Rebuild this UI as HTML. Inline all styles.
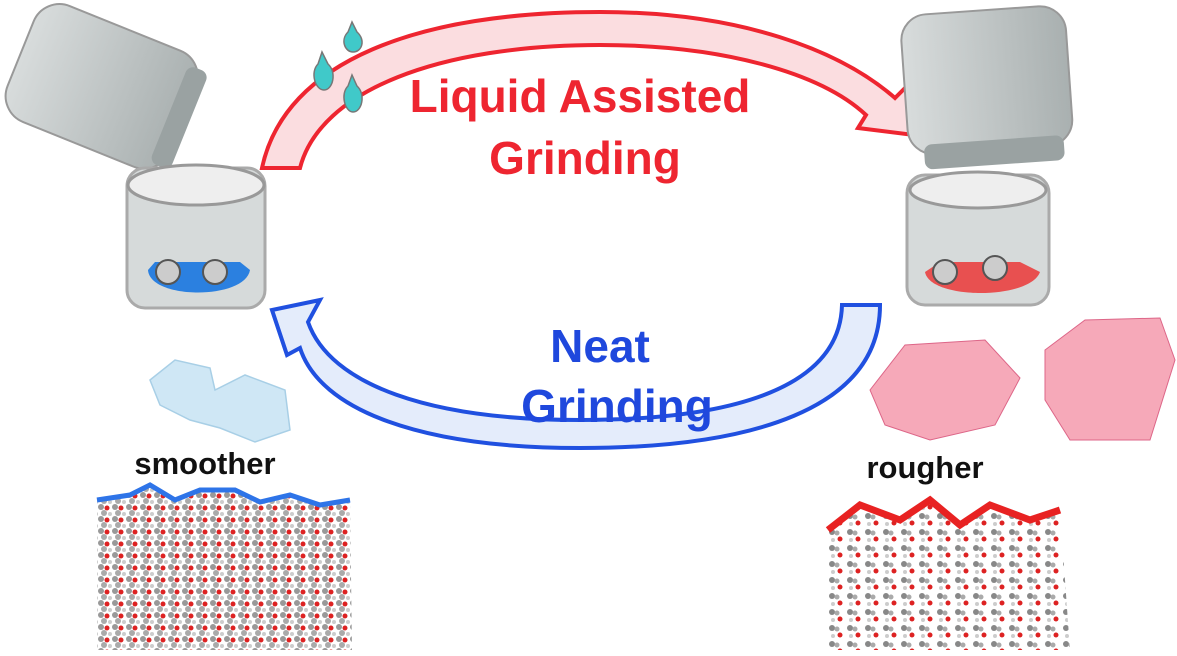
<!DOCTYPE html>
<html><head><style>
body{margin:0;background:#fff;width:1177px;height:656px;overflow:hidden}
svg{display:block}
text{font-family:"Liberation Sans",sans-serif;font-weight:bold}
</style></head><body>
<svg width="1177" height="656" viewBox="0 0 1177 656">
<defs>
<pattern id="mol" width="14" height="12" patternUnits="userSpaceOnUse">
<rect width="14" height="12" fill="#fff"/>
<circle cx="3" cy="3" r="3" fill="#999"/><circle cx="9" cy="4" r="2.5" fill="#d22"/>
<circle cx="6" cy="9" r="3" fill="#aaa"/><circle cx="12" cy="10" r="2" fill="#ccc"/>
</pattern>
<pattern id="mol2" width="18" height="16" patternUnits="userSpaceOnUse">
<rect width="18" height="16" fill="#fff"/>
<circle cx="4" cy="4" r="3" fill="#888"/><circle cx="9" cy="5" r="2.5" fill="#aaa"/>
<circle cx="12" cy="11" r="2.5" fill="#d22"/><circle cx="5" cy="12" r="2" fill="#ccc"/>
</pattern>
<linearGradient id="lid" x1="0" x2="1"><stop offset="0" stop-color="#d8dcdc"/><stop offset="1" stop-color="#a9b0b0"/></linearGradient>
</defs>
<!-- red arrow -->
<path d="M262,168 C285,60 420,12 600,12 C740,12 840,50 895,98 L905,88 L922,136 L858,128 L866,115 C820,72 720,45 600,45 C440,45 320,90 300,168 Z" fill="#fbdde0" stroke="#ee2530" stroke-width="4"/>
<!-- blue arrow -->
<path d="M880,305 C880,410 750,448 580,448 C420,448 320,410 300,348 L287,355 L272,310 L320,300 L308,322 C330,385 430,420 580,420 C740,420 840,385 842,305 Z" fill="#e4ecfb" stroke="#2050e0" stroke-width="4"/>
<!-- drops -->
<g fill="#40c9c9" stroke="#777" stroke-width="1.5">
<path d="M352,22 L348,32 C340,40 345,52 353,52 C362,52 366,40 357,32 Z"/>
<path d="M322,52 L318,64 C310,72 315,90 324,90 C333,90 337,72 328,64 Z"/>
<path d="M352,75 L348,86 C340,94 345,112 353,112 C362,112 366,94 357,86 Z"/>
</g>
<text x="580" y="112" font-size="46" fill="#ee2530" text-anchor="middle">Liquid Assisted</text>
<text x="585" y="174" font-size="46" fill="#ee2530" text-anchor="middle">Grinding</text>
<text x="600" y="362" font-size="46" fill="#1f48dd" text-anchor="middle">Neat</text>
<text x="617" y="422" font-size="46" fill="#1f48dd" text-anchor="middle">Grinding</text>
<!-- left lid -->
<g transform="rotate(22 105 85)">
<rect x="15" y="25" width="175" height="125" rx="28" fill="url(#lid)" stroke="#999" stroke-width="2"/>
<rect x="175" y="35" width="22" height="105" rx="8" fill="#9aa2a2"/>
</g>
<!-- left jar -->
<rect x="127" y="168" width="138" height="140" rx="18" fill="#d6dada" stroke="#aaa" stroke-width="3"/>
<ellipse cx="196" cy="185" rx="68" ry="20" fill="#eee" stroke="#999" stroke-width="3"/>
<path d="M148,270 C150,300 245,300 250,270 L240,262 L155,262 Z" fill="#2b80e0"/>
<circle cx="168" cy="272" r="12" fill="#ccc" stroke="#555" stroke-width="2"/><circle cx="215" cy="272" r="12" fill="#ccc" stroke="#555" stroke-width="2"/>
<!-- right lid -->
<g transform="rotate(-4 990 90)">
<rect x="905" y="10" width="165" height="140" rx="26" fill="url(#lid)" stroke="#999" stroke-width="2"/>
<rect x="920" y="140" width="140" height="25" rx="8" fill="#9aa2a2"/>
</g>
<!-- right jar -->
<rect x="907" y="175" width="142" height="130" rx="18" fill="#d6dada" stroke="#aaa" stroke-width="3"/>
<ellipse cx="978" cy="190" rx="68" ry="18" fill="#eee" stroke="#999" stroke-width="3"/>
<path d="M925,272 C930,300 1030,300 1040,272 L1020,262 L940,262 Z" fill="#e85050"/>
<circle cx="945" cy="272" r="12" fill="#ccc" stroke="#555" stroke-width="2"/><circle cx="995" cy="268" r="12" fill="#ccc" stroke="#555" stroke-width="2"/>
<!-- crystals -->
<path d="M150,380 L175,360 L210,368 L215,390 L245,375 L285,390 L290,430 L255,442 L220,428 L190,420 L160,405 Z" fill="#cfe7f5" stroke="#a8cfe6" stroke-width="1.5"/>
<path d="M870,390 L905,345 L985,340 L1020,378 L995,425 L930,440 L885,425 Z" fill="#f6a9b9" stroke="#d68"/>
<path d="M1045,350 L1085,320 L1160,318 L1175,360 L1150,440 L1070,440 L1045,400 Z" fill="#f6a9b9" stroke="#d68"/>
<text x="205" y="474" font-size="31" fill="#111" text-anchor="middle">smoother</text>
<text x="925" y="478" font-size="31" fill="#111" text-anchor="middle">rougher</text>
<!-- molecules -->
<path d="M97,500 L130,495 L150,485 L175,500 L200,490 L235,490 L260,502 L290,495 L320,505 L350,500 L352,650 L97,650 Z" fill="url(#mol)"/>
<path d="M97,500 L130,495 L150,485 L175,500 L200,490 L235,490 L260,502 L290,495 L320,505 L350,500" fill="none" stroke="#2e74e8" stroke-width="5"/>
<path d="M828,530 L860,505 L900,520 L930,500 L960,525 L990,505 L1030,520 L1060,510 L1070,650 L828,650 Z" fill="url(#mol2)"/>
<path d="M828,530 L860,505 L900,520 L930,500 L960,525 L990,505 L1030,520 L1060,510" fill="none" stroke="#e82222" stroke-width="7"/>
</svg>
</body></html>
